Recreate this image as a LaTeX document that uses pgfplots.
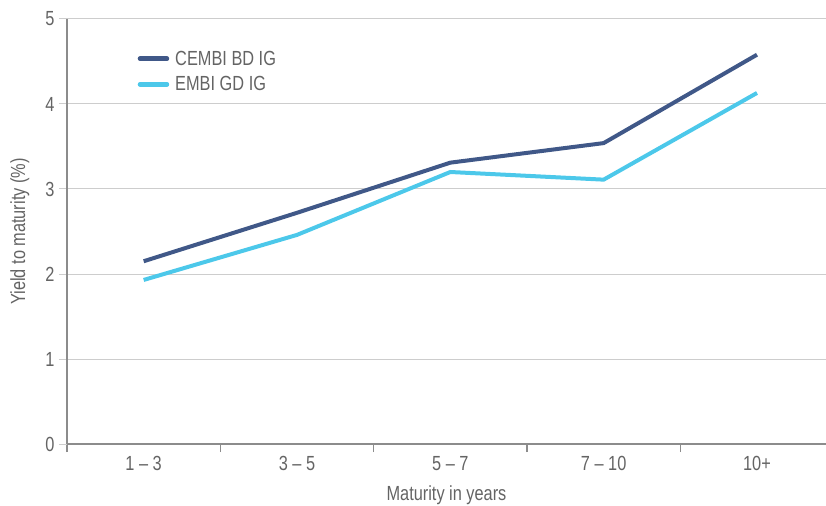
\documentclass[border=0pt]{standalone}
\usepackage{pgfplots}
\pgfplotsset{compat=1.18}
\usepackage{fontspec}
\setmainfont{Liberation Sans}[FakeStretch=0.8]
\definecolor{txt}{RGB}{100,100,100}
\definecolor{axisc}{RGB}{140,140,140}
\definecolor{gridc}{RGB}{205,205,205}
\definecolor{cembi}{RGB}{64,88,136}
\definecolor{embi}{RGB}{76,200,234}
\begin{document}
\begin{tikzpicture}[x=1bp,y=1bp]
\begin{axis}[
  at={(0,0)}, anchor=south west,
  scale only axis, width=759bp, height=425bp,
  xmin=-0.5, xmax=4.45, ymin=0, ymax=5,
  axis lines=left, axis line style={-, axisc, line width=1.3bp},
  /pgf/number format/assume math mode=true,
  font=\fontsize{20.5}{23}\selectfont\color{txt},
  ytick={0,1,2,3,4,5},
  ymajorgrids, grid style={gridc, line width=1bp},
  ytick style={draw=gridc, line width=1bp},
  xtick={-0.5,0.5,1.5,2.5,3.5},
  xticklabels={},
  xtick style={draw=axisc, line width=1.2bp},
  major tick length=8bp,
  tick align=outside,
  extra x ticks={0,1,2,3,4},
  extra x tick labels={1 – 3,3 – 5,5 – 7,7 – 10,10+},
  extra x tick style={major tick length=0pt, xmajorgrids=false},
  xticklabel style={yshift=-9bp},
  yticklabel style={xshift=-1bp},
  xlabel={Maturity in years},
  ylabel={Yield to maturity (\%)},
  xlabel style={at={(axis description cs:0.5,-0.133)}, anchor=base},
  ylabel style={at={(axis description cs:-0.062,0.5)}, anchor=center},
  legend style={at={(0.089,0.935)}, anchor=north west, draw=none, fill=none,
    font=\fontsize{20.5}{23}\selectfont\color{txt}, row sep=6bp},
  legend cell align=left,
  legend image code/.code={\draw[#1, line width=4.5bp, line cap=round] (0bp,0bp) -- (27bp,0bp);},
]
\addplot[cembi, line width=4bp] coordinates {(0,2.15) (1,2.72) (2,3.31) (3,3.54) (4,4.58)};
\addlegendentry{\hspace{4bp}CEMBI BD IG}
\addplot[embi, line width=4bp] coordinates {(0,1.93) (1,2.46) (2,3.20) (3,3.11) (4,4.13)};
\addlegendentry{\hspace{4bp}EMBI GD IG}
\end{axis}
\pgfresetboundingbox
\useasboundingbox (-67bp,-62bp) rectangle (759bp,444bp);
\end{tikzpicture}
\end{document}
